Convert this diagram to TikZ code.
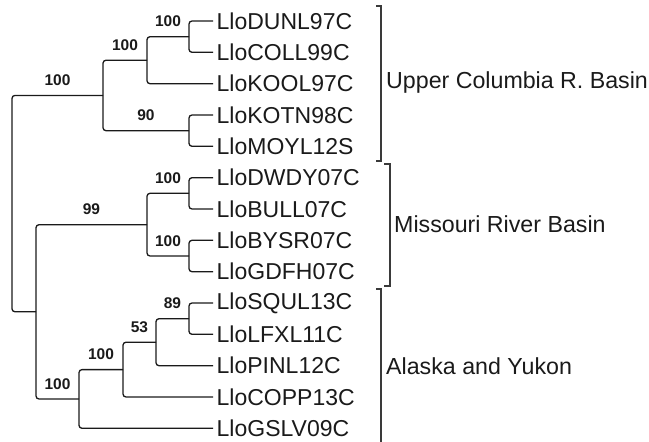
\documentclass[tikz,border=0pt]{standalone}
\usepackage{fontspec}
\setmainfont{Liberation Sans}
\usetikzlibrary{calc}
\definecolor{ink}{HTML}{1A1A1A}
\definecolor{brk}{HTML}{3A3A3A}
\begin{document}
\begin{tikzpicture}[x=1pt,y=-1pt,
  leaf/.style={anchor=west,inner xsep=3.5pt,inner ysep=0pt,font=\fontsize{23}{25}\selectfont,text=ink},
  boot/.style={anchor=south,inner sep=0pt,yshift=9.5pt,font=\fontsize{15.5}{17}\selectfont\bfseries,text=ink},
  grp/.style={anchor=west,inner sep=0pt,font=\fontsize{23.2}{25}\selectfont,text=ink},
  br/.style={draw=ink,line width=1.3pt,rounded corners=3pt},
  bracket/.style={draw=brk,line width=2pt}]
\useasboundingbox (0,0) rectangle (649,442);
% leaves
\node[leaf] (l0) at (213,21.0) {LloDUNL97C};
\node[leaf] (l1) at (213,52.3) {LloCOLL99C};
\node[leaf] (l2) at (213,83.7) {LloKOOL97C};
\node[leaf] (l3) at (213,115.0) {LloKOTN98C};
\node[leaf] (l4) at (213,146.3) {LloMOYL12S};
\node[leaf] (l5) at (213,177.7) {LloDWDY07C};
\node[leaf] (l6) at (213,209.0) {LloBULL07C};
\node[leaf] (l7) at (213,240.3) {LloBYSR07C};
\node[leaf] (l8) at (213,271.7) {LloGDFH07C};
\node[leaf] (l9) at (213,303.0) {LloSQUL13C};
\node[leaf] (l10) at (213,334.3) {LloLFXL11C};
\node[leaf] (l11) at (213,365.7) {LloPINL12C};
\node[leaf] (l12) at (213,397.0) {LloCOPP13C};
\node[leaf] (l13) at (213,428.3) {LloGSLV09C};
% internal nodes
\coordinate (A) at (189,36.7);
\coordinate (B) at (147,60.2);
\coordinate (C) at (189,130.7);
\coordinate (U) at (103,95.4);
\coordinate (D) at (189,193.3);
\coordinate (E) at (189,256.0);
\coordinate (M) at (147,224.7);
\coordinate (F) at (189,318.7);
\coordinate (G) at (156,342.2);
\coordinate (H) at (123,369.6);
\coordinate (I) at (79,399.0);
\coordinate (J) at (36,311.8);
\coordinate (R) at (12,203.6);
% elbows
\draw[br] (l0.west) -| (A) |- (l1.west);
\draw[br] (A) -| (B) |- (l2.west);
\draw[br] (l3.west) -| (C) |- (l4.west);
\draw[br] (B) -| (U) |- (C);
\draw[br] (l5.west) -| (D) |- (l6.west);
\draw[br] (l7.west) -| (E) |- (l8.west);
\draw[br] (D) -| (M) |- (E);
\draw[br] (l9.west) -| (F) |- (l10.west);
\draw[br] (F) -| (G) |- (l11.west);
\draw[br] (G) -| (H) |- (l12.west);
\draw[br] (H) -| (I) |- (l13.west);
\draw[br] (M) -| (J) |- (I);
\draw[br] (U) -| (R) |- (J);
% bootstrap values
\path (A) -- (A -| B) node[midway,boot] {100};
\path (B) -- (B -| U) node[midway,boot] {100};
\path (U) -- (U -| R) node[midway,boot] {100};
\path (C) -- (C -| U) node[midway,boot] {90};
\path (D) -- (D -| M) node[midway,boot] {100};
\path (M) -- (M -| J) node[midway,boot] {99};
\path (E) -- (E -| M) node[midway,boot] {100};
\path (F) -- (F -| G) node[midway,boot] {89};
\path (G) -- (G -| H) node[midway,boot] {53};
\path (H) -- (H -| I) node[midway,boot] {100};
\path (I) -- (I -| J) node[midway,boot] {100};
% brackets
\draw[bracket] (376,6) -- (381,6) -- (381,161) -- (376,161);
\draw[bracket] (384,164) -- (390,164) -- (390,286) -- (384,286);
\draw[bracket] (376,289) -- (381,289) -- (381,445);
% group labels
\node[grp] (g1) at (386,83) {Upper Columbia R. Basin};
\node[grp] (g2) at (394,224) {Missouri River Basin};
\node[grp] (g3) at (386,366) {Alaska and Yukon};
\end{tikzpicture}
\end{document}
